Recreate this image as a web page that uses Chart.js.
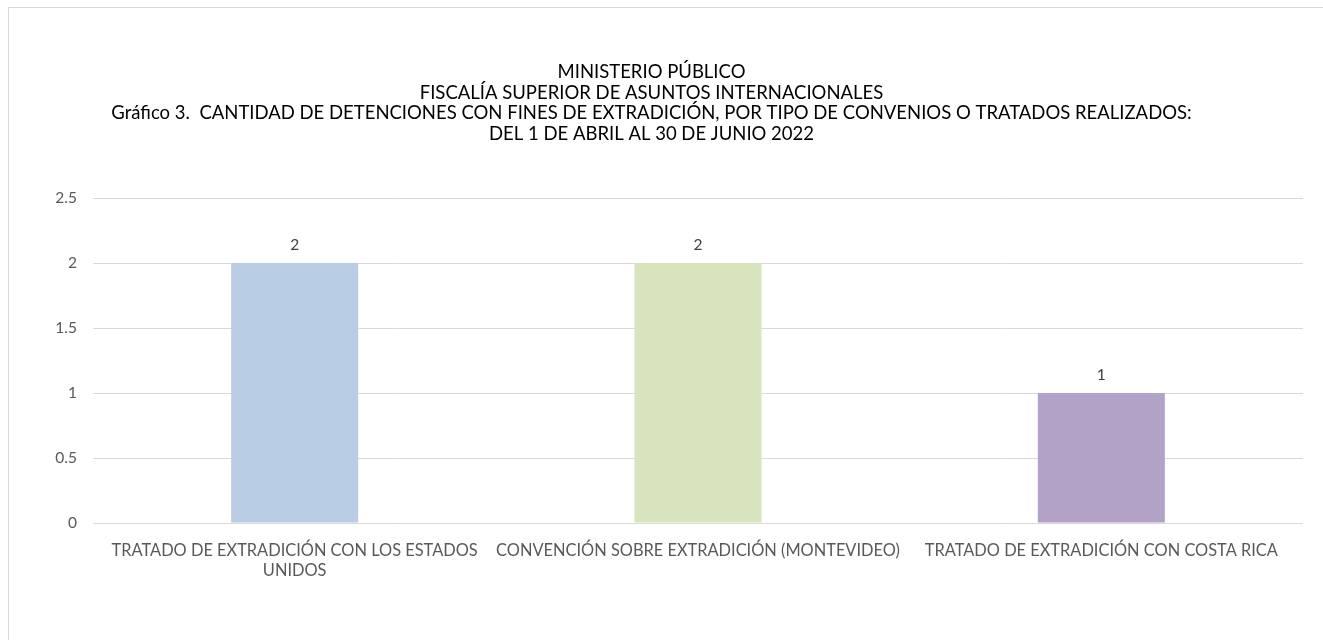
<!DOCTYPE html>
<html lang="es">
<head>
    <meta charset="UTF-8">
    <title>Detenciones con fines de extradición</title>
    <script src="https://cdn.jsdelivr.net/npm/chart.js"></script>
    <style>
        html, body {
            margin: 0;
            padding: 0;
            background: #fff;
            overflow: hidden;
        }

        .frame {
            position: absolute;
            left: 8px;
            top: 7px;
            width: 1400px;
            height: 700px;
            border-left: 1px solid #d9d9d9;
            border-top: 1px solid #d9d9d9;
        }

        .chart-box {
            position: absolute;
            left: 0;
            top: 0;
            width: 1323px;
            height: 640px;
        }
    </style>
</head>
<body>
    <div class="frame"></div>
    <div class="chart-box">
        <canvas id="barChart"></canvas>
    </div>

    <script>
        // data
        const categories = [
            ['TRATADO DE EXTRADICIÓN CON LOS ESTADOS', 'UNIDOS'],
            'CONVENCIÓN SOBRE EXTRADICIÓN (MONTEVIDEO)',
            'TRATADO DE EXTRADICIÓN CON COSTA RICA'
        ];
        const detenciones = [2, 2, 1];
        const barColors = ['#b9cde5', '#d7e4bd', '#b3a2c7'];
        const titleLines = [
            'MINISTERIO PÚBLICO',
            'FISCALÍA SUPERIOR DE ASUNTOS INTERNACIONALES',
            'Gráfico 3.  CANTIDAD DE DETENCIONES CON FINES DE EXTRADICIÓN, POR TIPO DE CONVENIOS O TRATADOS REALIZADOS:',
            'DEL 1 DE ABRIL AL 30 DE JUNIO 2022'
        ];

        const fontFamily = 'Lato, "Open Sans", sans-serif';

        // value labels above each bar
        const valueLabels = {
            id: 'valueLabels',
            afterDatasetsDraw(chart) {
                const ctx = chart.ctx;
                const meta = chart.getDatasetMeta(0);
                ctx.save();
                ctx.font = '15.5px ' + fontFamily;
                ctx.fillStyle = '#404040';
                ctx.textAlign = 'center';
                ctx.textBaseline = 'middle';
                meta.data.forEach((bar, i) => {
                    ctx.fillText(String(detenciones[i]), bar.x, bar.y - 18);
                });
                ctx.restore();
            }
        };

        const ctx = document.getElementById('barChart').getContext('2d');
        const barChart = new Chart(ctx, {
            type: 'bar',
            data: {
                labels: categories,
                datasets: [{
                    data: detenciones,
                    backgroundColor: barColors,
                    borderWidth: 0,
                    categoryPercentage: 0.63,
                    barPercentage: 0.5
                }]
            },
            options: {
                responsive: true,
                maintainAspectRatio: false,
                animation: false,
                layout: {
                    padding: { top: 62, left: 0, right: 20, bottom: 41 }
                },
                plugins: {
                    legend: { display: false },
                    tooltip: { enabled: false },
                    title: {
                        display: true,
                        text: titleLines,
                        color: '#000',
                        font: { family: fontFamily, size: 18.5, weight: 'normal', lineHeight: '20.5px' },
                        padding: { top: 0, bottom: 54 }
                    }
                },
                scales: {
                    x: {
                        grid: { display: false, drawTicks: false },
                        border: { display: false },
                        ticks: {
                            color: '#595959',
                            font: { family: fontFamily, size: 16.4, lineHeight: '20px' },
                            padding: 18,
                            maxRotation: 0,
                            autoSkip: false
                        }
                    },
                    y: {
                        min: 0,
                        max: 2.5,
                        grid: { color: '#d9d9d9', lineWidth: 1, drawTicks: false },
                        border: { display: false },
                        ticks: {
                            stepSize: 0.5,
                            color: '#595959',
                            font: { family: fontFamily, size: 15.5 },
                            padding: 16,
                            callback: (value) => String(value)
                        },
                        afterFit(scale) {
                            scale.width = 93;
                        }
                    }
                }
            },
            plugins: [valueLabels]
        });
    </script>
</body>
</html>
